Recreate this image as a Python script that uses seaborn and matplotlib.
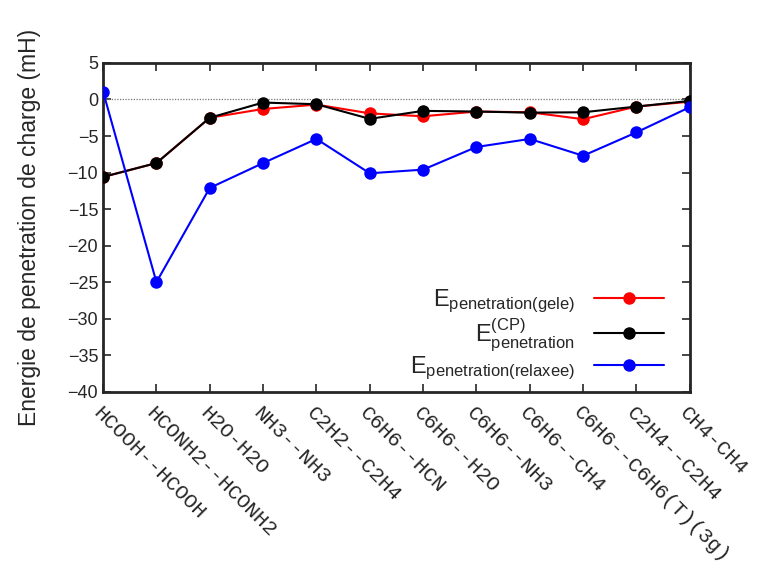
import numpy as np
import pandas as pd
import matplotlib
matplotlib.use("Agg")
import matplotlib.pyplot as plt
import seaborn as sns

# Systemes (axe x)
systemes = ["HCOOH--HCOOH", "HCONH2--HCONH2", "H2O-H2O", "NH3--NH3",
            "C2H2--C2H4", "C6H6--HCN", "C6H6--H2O", "C6H6--NH3",
            "C6H6--CH4", "C6H6--C6H6(T)(3g)", "C2H4--C2H4", "CH4-CH4"]

# Energies de penetration (mH)
e_gele = [-10.6, -8.7, -2.5, -1.3, -0.7, -1.9, -2.3, -1.65, -1.75, -2.7, -0.97, -0.3]
e_cp = [-10.6, -8.7, -2.5, -0.42, -0.65, -2.65, -1.56, -1.65, -1.8, -1.75, -0.97, -0.2]
e_relaxee = [1.08, -25.0, -12.1, -8.7, -5.4, -10.1, -9.6, -6.5, -5.4, -7.7, -4.5, -1.05]

noms = [r"$E_{penetration(gele)}$",
        r"$E^{(CP)}_{penetration}$",
        r"$E_{penetration(relaxee)}$"]
couleurs = ["#ff0000", "#000000", "#0000ff"]

idx = np.arange(len(systemes))
df = pd.concat([
    pd.DataFrame({"x": idx, "E": vals, "serie": nom})
    for nom, vals in zip(noms, [e_gele, e_cp, e_relaxee])
])

sns.set_style("ticks")
plt.rcParams["font.family"] = ["Liberation Sans", "DejaVu Sans"]
plt.rcParams["mathtext.default"] = "regular"

fig = plt.figure(figsize=(7.58, 5.67), dpi=100)
ax = fig.add_axes([0.136, 0.309, 0.774, 0.580])

ax.axhline(0, color="#777777", lw=0.9, ls=(0, (1, 1.2)), zorder=1)

sns.lineplot(data=df, x="x", y="E", hue="serie", palette=couleurs,
             marker="o", markersize=9, markeredgewidth=0, lw=1.5,
             sort=False, ax=ax, zorder=3)

ax.set_xlim(0, len(systemes) - 1)
ax.set_ylim(-40, 5)
ax.set_yticks(np.arange(-40, 6, 5))
ax.set_xticks(idx)
ax.set_xticklabels(systemes, rotation=-45, ha="left", va="top",
                   rotation_mode="anchor", family="Liberation Mono", fontsize=15)
ax.tick_params(axis="y", labelsize=13)
ax.tick_params(direction="in", length=6, width=1.2, top=True, right=True)
ax.tick_params(axis="x", pad=8)
for s in ax.spines.values():
    s.set_linewidth(2)
    s.set_visible(True)

ax.set_xlabel("")
ax.set_ylabel("Energie de penetration de charge (mH)", fontsize=16.5, labelpad=19)

leg = ax.legend(loc="lower right", markerfirst=False, frameon=False,
                fontsize=17, handlelength=3.0, labelspacing=0.05,
                borderaxespad=0.3, bbox_to_anchor=(0.985, -0.02))
for t in leg.get_texts():
    t.set_ha("right")
leg._legend_box.align = "right"

fig.savefig("out.png", dpi=100)
